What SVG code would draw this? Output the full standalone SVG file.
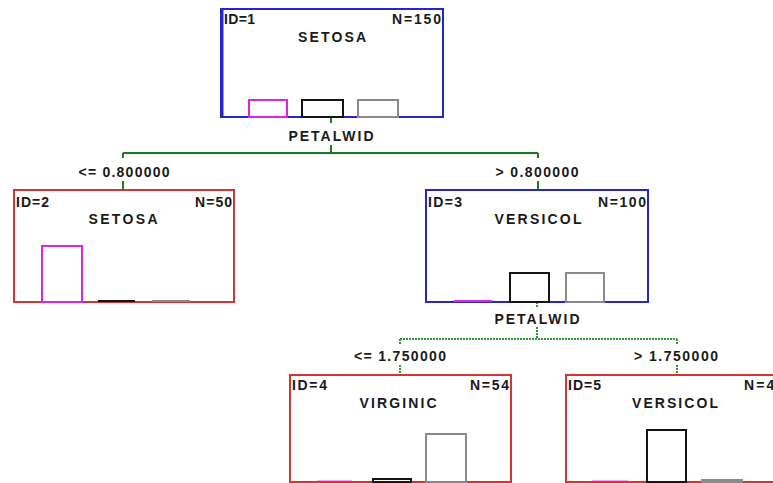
<svg xmlns="http://www.w3.org/2000/svg" width="773" height="483" viewBox="0 0 773 483">
<style>
text{font-family:"Liberation Sans",Arial,sans-serif;font-weight:bold;font-size:14px;fill:#1a1a1a}
.c{text-anchor:middle}
.e{text-anchor:end}
.blue{fill:#fff;stroke:#2626c8;stroke-width:2}
.red{fill:#fff;stroke:#d43434;stroke-width:2}
.m{fill:none;stroke:#e024e0;stroke-width:2}
.k{fill:none;stroke:#141414;stroke-width:2}
.g{fill:none;stroke:#8a8a8a;stroke-width:2}
.ln{fill:none;stroke:#1e7a1e;stroke-width:2}
.ln2{fill:none;stroke:#2a9a2a;stroke-width:2;stroke-dasharray:2 1}
</style>
<rect width="773" height="483" fill="#fff"/>
<g id="connectors">
<path class="ln" d="M331 117V123M331 145V153M123 153H538M123 153V158M123 181V190M538 153V158M538 181V190"/>
<text class="c" x="331" y="141" textLength="85">PETALWID</text>
<text class="c" x="124" y="177" textLength="91">&lt;= 0.800000</text>
<text class="c" x="537" y="177" textLength="83">&gt; 0.800000</text>
<path class="ln2" d="M537 302V308M537 327V339M400 339H677M400 339V345M400 365V375M677 339V345M677 365V375"/>
<text class="c" x="537" y="324" textLength="85">PETALWID</text>
<text class="c" x="400" y="361" textLength="92">&lt;= 1.750000</text>
<text class="c" x="676" y="361" textLength="84">&gt; 1.750000</text>
</g>
<g id="node1">
<rect class="blue" x="221" y="9" width="222" height="108"/>
<line x1="222" y1="9" x2="222" y2="117" stroke="#2626c8" stroke-width="3"/>
<rect class="m" x="249" y="100" width="38" height="17"/>
<rect class="k" x="302" y="100" width="41" height="17"/>
<rect class="g" x="358" y="100" width="40" height="17"/>
<text x="224" y="24" textLength="31">ID=1</text>
<text class="e" x="441" y="24" textLength="49">N=150</text>
<text class="c" x="332" y="42" textLength="68">SETOSA</text>
</g>
<g id="node2">
<rect class="red" x="14" y="190" width="220" height="112"/>
<rect class="m" x="42" y="246" width="40" height="56"/>
<line class="k" x1="98" y1="301" x2="135" y2="301"/>
<line class="g" x1="152" y1="301" x2="190" y2="301"/>
<text x="16" y="207" textLength="33">ID=2</text>
<text class="e" x="232" y="207" textLength="37">N=50</text>
<text class="c" x="123" y="224" textLength="69">SETOSA</text>
</g>
<g id="node3">
<rect class="blue" x="426" y="190" width="222" height="112"/>
<line class="m" x1="454" y1="301" x2="492" y2="301"/>
<rect class="k" x="510" y="273" width="39" height="29"/>
<rect class="g" x="566" y="273" width="38" height="29"/>
<text x="428" y="207" textLength="34">ID=3</text>
<text class="e" x="646" y="207" textLength="48">N=100</text>
<text class="c" x="538" y="224" textLength="87">VERSICOL</text>
</g>
<g id="node4">
<rect class="red" x="290" y="375" width="221" height="107"/>
<line class="m" x1="317" y1="481" x2="352" y2="481" stroke-opacity="0.4"/>
<rect class="k" x="373" y="479" width="38" height="3"/>
<rect class="g" x="426" y="434" width="40" height="48"/>
<text x="292" y="390" textLength="35">ID=4</text>
<text class="e" x="509" y="390" textLength="39">N=54</text>
<text class="c" x="398" y="408" textLength="77">VIRGINIC</text>
</g>
<g id="node5">
<rect class="red" x="566" y="375" width="221" height="107"/>
<line class="m" x1="592" y1="481" x2="628" y2="481" stroke-opacity="0.4"/>
<rect class="k" x="647" y="430" width="39" height="52"/>
<rect class="g" x="702" y="480" width="40" height="2"/>
<text x="568" y="390" textLength="33">ID=5</text>
<text x="744" y="390" textLength="40">N=46</text>
<text class="c" x="675" y="408" textLength="86">VERSICOL</text>
</g>
</svg>
